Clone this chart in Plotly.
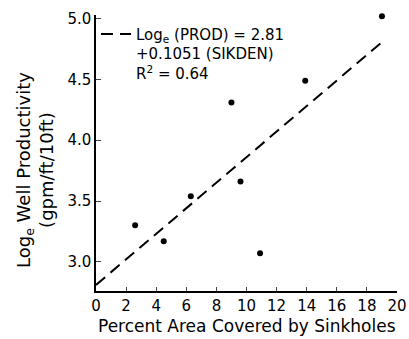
import plotly.graph_objects as go

sinkhole_pct = [2.6, 4.5, 6.3, 9.0, 9.6, 10.9, 13.9, 19.0]
log_prod = [3.30, 3.17, 3.54, 4.31, 3.66, 3.07, 4.49, 5.02]

fit_intercept = 2.81
fit_slope = 0.1051
fit_x = [0.0, 19.2]
fit_y = [fit_intercept + fit_slope * v for v in fit_x]

x_ticks = [0, 2, 4, 6, 8, 10, 12, 14, 16, 18, 20]
y_ticks = [3.0, 3.5, 4.0, 4.5, 5.0]
y_ticktext = ["3.0", "3.5", "4.0", "4.5", "5.0"]

FONT = "DejaVu Sans"

fig = go.Figure()
fig.add_trace(go.Scatter(
    x=fit_x, y=fit_y, mode="lines",
    line=dict(color="black", width=2, dash="12px,7px"),
    name="Log<sub>e</sub> (PROD) = 2.81<br>+0.1051 (SIKDEN)<br>R<sup>2</sup> = 0.64",
    showlegend=True,
))
fig.add_trace(go.Scatter(
    x=sinkhole_pct, y=log_prod, mode="markers",
    marker=dict(color="black", size=6),
    showlegend=False, cliponaxis=False,
))

fig.update_layout(
    width=409, height=339,
    margin=dict(l=96, r=12, t=15, b=48, autoexpand=False),
    paper_bgcolor="white", plot_bgcolor="white",
    font=dict(family=FONT, size=14, color="black"),
    legend=dict(x=0.0, y=0.99, xanchor="left", yanchor="top",
                valign="top", bgcolor="rgba(0,0,0,0)",
                font=dict(size=15, family=FONT), itemwidth=30,
                tracegroupgap=0),
    xaxis=dict(range=[0, 20], tickvals=x_ticks, ticks="inside", ticklen=4,
               showline=True, linecolor="black", linewidth=1.5,
               showgrid=False, zeroline=False, automargin=False,
               tickfont=dict(size=15, family=FONT)),
    yaxis=dict(range=[2.76, 5.03], tickvals=y_ticks, ticktext=y_ticktext,
               ticks="inside", ticklen=5,
               showline=True, linecolor="black", linewidth=1.5,
               showgrid=False, zeroline=False, automargin=False,
               tickfont=dict(size=15, family=FONT)),
    annotations=[
        dict(text="Percent Area Covered by Sinkholes", xref="paper", yref="paper",
             x=0.5, y=-0.127, xanchor="center", yanchor="middle",
             showarrow=False, font=dict(size=17, family=FONT)),
        dict(text="Log<sub>e</sub> Well Productivity<br>(gpm/ft/10ft)",
             xref="paper", yref="paper", x=-0.203, y=0.438,
             xanchor="center", yanchor="middle", textangle=-90,
             showarrow=False, font=dict(size=18, family=FONT)),
    ],
)

fig.write_html(
    "out.html",
    config={"displayModeBar": False},
    post_script="document.body.style.margin='0';document.body.style.overflow='hidden';",
)
